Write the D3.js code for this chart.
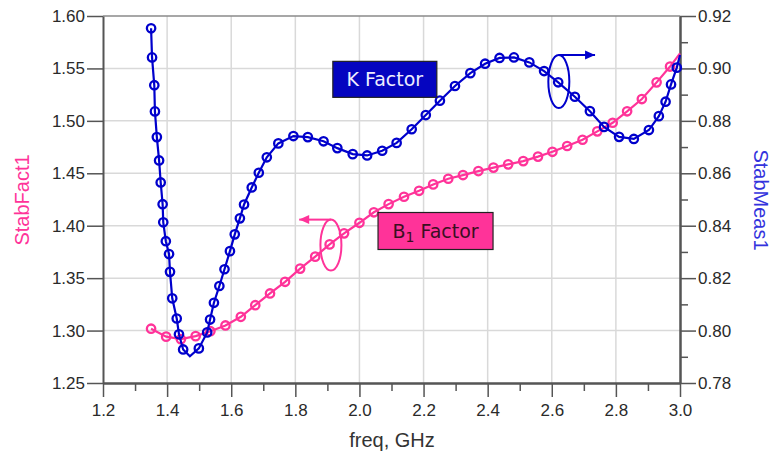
<!DOCTYPE html>
<html>
<head>
<meta charset="utf-8">
<script src="https://cdn.jsdelivr.net/npm/d3@7"></script>
<style>
  body { margin: 0; background: #fff; }
  text { font-family: "Liberation Sans", Arial, sans-serif; }
</style>
</head>
<body>
<script>
const width = 772, height = 464;

// K factor (StabMeas1, right axis)
const kFreq = [1.350,1.353,1.360,1.362,1.368,1.375,1.380,1.386,1.388,1.396,1.406,1.409,1.416,1.430,1.437,1.450,1.471,1.499,1.525,1.534,
  1.546,1.563,1.579,1.596,1.611,1.627,1.640,1.664,1.686,1.711,1.747,1.794,1.839,1.888,1.931,1.979,2.024,2.071,2.116,2.163,
  2.207,2.251,2.298,2.346,2.392,2.437,2.482,2.530,2.576,2.620,2.672,2.719,2.763,2.810,2.856,2.903,2.934,2.955,2.972,2.990,3.000];
const kVal = [0.9153,0.9042,0.8936,0.8836,0.8738,0.8649,0.8565,0.8482,0.8413,0.8341,0.8292,0.8224,0.8123,0.8046,0.7986,0.7928,0.7902,0.7932,0.7993,0.8042,
  0.8106,0.8170,0.8234,0.8303,0.8367,0.8428,0.8481,0.8546,0.8602,0.8661,0.8714,0.8742,0.8738,0.8722,0.8696,0.8673,0.8668,0.8686,0.8716,0.8768,
  0.8822,0.8877,0.8933,0.8982,0.9018,0.9040,0.9042,0.9023,0.8990,0.8947,0.8892,0.8837,0.8777,0.8739,0.8731,0.8765,0.8818,0.8873,0.8939,0.9003,0.9051];
const kNoMarker = [16, 60];

// B1 factor (StabFact1, left axis)
const b1Freq = [1.350,1.397,1.443,1.489,1.535,1.582,1.630,1.675,1.721,1.768,1.815,1.862,1.907,1.952,2.000,2.045,2.091,2.139,2.186,2.230,
  2.277,2.323,2.371,2.418,2.464,2.511,2.557,2.602,2.648,2.696,2.742,2.790,2.835,2.881,2.927,2.969,3.000];
const b1Val = [1.3018,1.2942,1.2918,1.2947,1.2994,1.3049,1.3131,1.3242,1.3354,1.3465,1.3591,1.3705,1.3822,1.3927,1.4028,1.4128,1.4206,1.4276,1.4333,1.4394,
  1.4448,1.4483,1.4521,1.4554,1.4585,1.4616,1.4659,1.4705,1.4760,1.4820,1.4900,1.4982,1.5091,1.5208,1.5367,1.5518,1.5644];
const b1NoMarker = [36];

const xTicks = d3.range(1.2, 3.001, 0.2);
const xMinor = d3.range(1.3, 3.0, 0.2);
const leftTicks = d3.range(1.25, 1.6001, 0.05);
const rightTicks = d3.range(0.78, 0.9201, 0.02);
const rightMinor = d3.range(0.79, 0.92, 0.02);

const blue = "#0000cc", pink = "#ff3399";

const x = d3.scaleLinear().domain([1.2, 3.0]).range([103, 680]);
const yL = d3.scaleLinear().domain([1.25, 1.60]).range([383, 16]);
const yR = d3.scaleLinear().domain([0.78, 0.92]).range([383, 16]);

const svg = d3.select('body').append('svg').attr('width', width).attr('height', height);

// grid
const grid = svg.append('g').attr('stroke', '#d9d9d9').attr('stroke-width', 1.5);
grid.selectAll('.vg').data(xTicks.slice(1, -1)).enter().append('line')
  .attr('x1', d => x(d)).attr('x2', d => x(d)).attr('y1', 16).attr('y2', 383);
grid.selectAll('.hg').data(leftTicks.slice(1, -1)).enter().append('line')
  .attr('x1', 103).attr('x2', 680).attr('y1', d => yL(d)).attr('y2', d => yL(d));
svg.append('line').attr('x1', 103).attr('x2', 680).attr('y1', yL(1.6)).attr('y2', yL(1.6))
  .attr('stroke', '#8a8a8a').attr('stroke-width', 1.5);

function styleAxis(g) {
  g.selectAll('path.domain').attr('stroke', '#555').attr('stroke-width', 2);
  g.selectAll('.tick line').attr('stroke', '#555').attr('stroke-width', 1.5);
  g.selectAll('.tick text').attr('fill', '#2a2a2a').style('font-size', '17px')
    .style('font-family', '"Liberation Sans", Arial, sans-serif');
}

svg.append('g').attr('transform', 'translate(0,383)')
  .call(d3.axisBottom(x).tickValues(xMinor).tickSize(8).tickFormat('').tickSizeOuter(0)).call(styleAxis);
svg.append('g').attr('transform', 'translate(0,383)')
  .call(d3.axisBottom(x).tickValues(xTicks).tickSize(14).tickPadding(7).tickFormat(d3.format('.1f')).tickSizeOuter(0))
  .call(styleAxis);
svg.append('g').attr('transform', 'translate(103,0)')
  .call(d3.axisLeft(yL).tickValues(leftTicks).tickSize(16).tickPadding(2).tickFormat(d3.format('.2f')).tickSizeOuter(0))
  .call(styleAxis);
svg.append('g').attr('transform', 'translate(680,0)')
  .call(d3.axisRight(yR).tickValues(rightMinor).tickSize(8).tickFormat('').tickSizeOuter(0)).call(styleAxis);
svg.append('g').attr('transform', 'translate(680,0)')
  .call(d3.axisRight(yR).tickValues(rightTicks).tickSize(16).tickPadding(2).tickFormat(d3.format('.2f')).tickSizeOuter(0))
  .call(styleAxis);

// axis titles
svg.append('text').attr('transform', 'translate(29,200) rotate(-90)').attr('text-anchor', 'middle')
  .attr('fill', pink).style('font-size', '20px').text('StabFact1');
svg.append('text').attr('transform', 'translate(754,200) rotate(90)').attr('text-anchor', 'middle')
  .attr('fill', '#3333dd').style('font-size', '20px').text('StabMeas1');
svg.append('text').attr('x', 392).attr('y', 447).attr('text-anchor', 'middle')
  .attr('fill', '#333').style('font-size', '20px').text('freq, GHz');

// series
const b1Data = b1Freq.map((f, i) => ({f, v: b1Val[i], i}));
const kData = kFreq.map((f, i) => ({f, v: kVal[i], i}));

function drawSeries(data, y, color, noMarker) {
  const line = d3.line().x(d => x(d.f)).y(d => y(d.v));
  svg.append('path').datum(data).attr('d', line).attr('fill', 'none')
    .attr('stroke', color).attr('stroke-width', 2.2);
  svg.append('g').selectAll('circle').data(data.filter(d => !noMarker.includes(d.i))).enter()
    .append('circle').attr('cx', d => x(d.f)).attr('cy', d => y(d.v)).attr('r', 4.2)
    .attr('fill', 'none').attr('stroke', color).attr('stroke-width', 2.3);
}
drawSeries(b1Data, yL, pink, b1NoMarker);
drawSeries(kData, yR, blue, kNoMarker);

// annotation ellipses with arrows
function annot(cx, cy, rx, ry, ax, color) {
  const g = svg.append('g').attr('fill', 'none').attr('stroke', color).attr('stroke-width', 2);
  g.append('ellipse').attr('cx', cx).attr('cy', cy).attr('rx', rx).attr('ry', ry);
  const top = cy - ry;
  g.append('line').attr('x1', cx).attr('y1', top).attr('x2', ax).attr('y2', top);
  const dir = ax < cx ? -1 : 1;
  svg.append('path').attr('fill', color)
    .attr('d', `M${ax},${top} L${ax - dir * 10},${top - 4.5} L${ax - dir * 10},${top + 4.5} Z`);
}
annot(x(1.911), yL(1.3815), 10.5, 25.5, x(1.812), pink);
annot(x(2.622), yR(0.895), 10.5, 26.5, x(2.735), blue);

// labels
function labelBox(x0, y0, w, h, fill, color, parts) {
  svg.append('rect').attr('x', x0).attr('y', y0).attr('width', w).attr('height', h)
    .attr('fill', fill).attr('stroke', '#222').attr('stroke-width', 1.2);
  const t = svg.append('text').attr('x', x0 + w / 2).attr('y', y0 + h / 2 + 7).attr('text-anchor', 'middle')
    .attr('fill', color).style('font-family', '"DejaVu Sans", sans-serif').style('font-size', '19px');
  parts.forEach(p => {
    const s = t.append('tspan').text(p.t);
    if (p.sub) s.attr('dy', 4).style('font-size', '14px');
    else if (p.after) s.attr('dy', -4);
  });
}
labelBox(x(1.917), yR(0.9027), 104, 36, '#0505c0', '#eef', [{t: 'K Factor'}]);
labelBox(x(2.058), yL(1.4126), 115, 37, pink, '#3a0f22', [{t: 'B'}, {t: '1', sub: true}, {t: ' Factor', after: true}]);
</script>
</body>
</html>
